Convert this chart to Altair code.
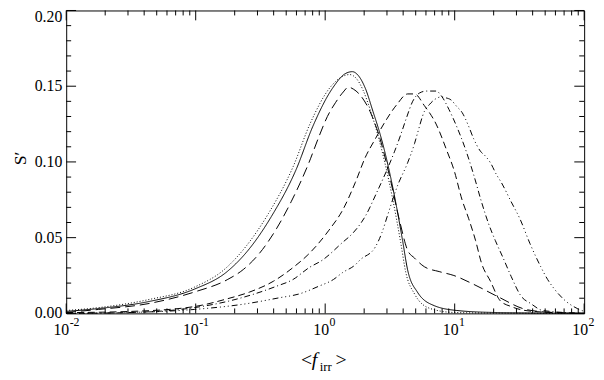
import altair as alt
import pandas as pd

# ---------------- data ----------------
series_names = ["solid", "dotted", "long dash", "short dash", "dash-dot", "dash-dot-dot-dot"]
dash_patterns = [[1, 0], [1, 2], [10, 5], [7, 4], [6, 3, 1, 3], [6, 3, 1, 3, 1, 3, 1, 3]]

solid_x = [0.01, 0.0178, 0.0428, 0.0977, 0.175, 0.261, 0.385, 0.596, 0.803, 1.14, 1.43, 1.62, 1.80,
           2.04, 2.34, 2.65, 2.99, 3.44, 3.96, 4.33, 5.15, 6.95, 10.4, 19.9, 47.9, 100]
solid_y = [0.0013, 0.0032, 0.0077, 0.0160, 0.0276, 0.0429, 0.0641, 0.0949, 0.1235, 0.1487, 0.1583,
           0.1596, 0.1571, 0.1487, 0.1333, 0.1186, 0.1013, 0.0769, 0.0481, 0.0288, 0.0141, 0.0051,
           0.0019, 0.0006, 0.0002, 0.0001]

dotted_x = [0.01, 0.0178, 0.0428, 0.0977, 0.169, 0.248, 0.365, 0.565, 0.762, 1.08, 1.36, 1.54, 1.74,
            1.96, 2.26, 2.56, 2.89, 3.33, 3.83, 4.18, 4.90, 6.47, 9.86, 19.9, 100]
dotted_y = [0.0019, 0.0038, 0.0090, 0.0173, 0.0295, 0.0449, 0.0660, 0.0968, 0.1250, 0.1487, 0.1564,
            0.1577, 0.1551, 0.1474, 0.1327, 0.1173, 0.0994, 0.0750, 0.0468, 0.0276, 0.0128, 0.0032,
            0.0006, 0.0002, 0.0]

longdash_x = [0.01, 0.0178, 0.0428, 0.0977, 0.175, 0.235, 0.311, 0.420, 0.546, 0.748, 0.891, 1.04,
              1.20, 1.38, 1.51, 1.65, 1.86, 2.22, 2.65, 3.16, 3.76, 4.33, 4.90, 5.83, 7.59, 9.86,
              14.0, 21.7, 35.5, 57.0, 100]
longdash_y = [0.0006, 0.0026, 0.0064, 0.0141, 0.0222, 0.0292, 0.0397, 0.0558, 0.0737, 0.0994,
              0.1163, 0.1300, 0.1391, 0.1462, 0.1494, 0.1481, 0.1442, 0.1333, 0.1154, 0.0897,
              0.0609, 0.0417, 0.0365, 0.0308, 0.0276, 0.0250, 0.0192, 0.0109, 0.0026, 0.0006, 0.0]

shortdash_x = [0.01, 0.0318, 0.0977, 0.175, 0.261, 0.398, 0.575, 0.736, 0.847, 1.06, 1.38, 1.71,
               2.04, 2.43, 2.89, 3.57, 4.33, 4.90, 5.83, 7.19, 8.73, 9.86, 11.4, 12.8, 14.5, 16.1,
               18.9, 22.5, 27.3, 40.2, 100]
shortdash_y = [0.0005, 0.0013, 0.0045, 0.0096, 0.0141, 0.0212, 0.0308, 0.0387, 0.0442, 0.0545,
               0.0690, 0.0865, 0.1030, 0.1150, 0.1263, 0.1378, 0.1449, 0.1449, 0.1372, 0.1250,
               0.1071, 0.0949, 0.0750, 0.0628, 0.0481, 0.0333, 0.0212, 0.0083, 0.0045, 0.0013, 0.0]

dashdot_x = [0.01, 0.0318, 0.0977, 0.184, 0.420, 0.565, 0.748, 0.957, 1.36, 1.62, 1.77, 2.04, 2.51,
             3.05, 3.44, 3.83, 4.26, 4.72, 5.35, 6.04, 7.19, 8.00, 9.04, 10.4, 12.2, 14.0, 16.1,
             18.2, 20.6, 23.7, 27.3, 32.5, 38.8, 47.9, 100]
dashdot_y = [0.0, 0.0006, 0.0038, 0.0083, 0.0179, 0.0224, 0.0301, 0.0353, 0.0468, 0.0526, 0.0564,
             0.0641, 0.0801, 0.0962, 0.1071, 0.1179, 0.1295, 0.1397, 0.1455, 0.1468, 0.1468,
             0.1429, 0.1346, 0.1231, 0.1077, 0.0917, 0.0737, 0.0596, 0.0481, 0.0365, 0.0244,
             0.0115, 0.0064, 0.0019, 0.0]

dddot_x = [0.01, 0.0318, 0.0977, 0.248, 0.443, 0.628, 0.891, 1.16, 1.36, 1.71, 1.86, 2.43, 2.74,
           3.05, 3.63, 4.33, 4.90, 5.15, 5.83, 6.37, 6.95, 7.85, 8.57, 9.35, 10.4, 11.4, 12.8, 14.0,
           15.8, 17.3, 18.9, 21.0, 22.9, 27.3, 32.0, 38.1, 46.2, 52.2, 59.0, 71.6, 88.5, 100]
dddot_y = [0.0, 0.0006, 0.0026, 0.0064, 0.0103, 0.0128, 0.0179, 0.0224, 0.0269, 0.0321, 0.0353,
           0.0436, 0.0532, 0.0654, 0.0846, 0.0994, 0.1122, 0.1186, 0.1333, 0.1378, 0.1410, 0.1429,
           0.1423, 0.1410, 0.1365, 0.1327, 0.1237, 0.1154, 0.1071, 0.1038, 0.0994, 0.0917, 0.0865,
           0.0737, 0.0622, 0.0462, 0.0308, 0.0224, 0.0160, 0.0083, 0.0032, 0.0013]

# axis ticks and labels
x_major = [0.01, 0.1, 1, 10, 100]
x_minor = [0.02, 0.03, 0.04, 0.05, 0.06, 0.07, 0.08, 0.09,
           0.2, 0.3, 0.4, 0.5, 0.6, 0.7, 0.8, 0.9,
           2, 3, 4, 5, 6, 7, 8, 9,
           20, 30, 40, 50, 60, 70, 80, 90]
x_lab_neg = [0.01, 0.1]
x_exp_neg = ["-2", "-1"]
x_lab_pos = [1, 10, 100]
x_exp_pos = ["0", "1", "2"]
y_major = [0.0, 0.05, 0.10, 0.15, 0.20]
y_minor = [0.01, 0.02, 0.03, 0.04, 0.06, 0.07, 0.08, 0.09, 0.11, 0.12, 0.13, 0.14,
           0.16, 0.17, 0.18, 0.19]
y_lab_vals = [0.0, 0.05, 0.10, 0.15]
y_lab_text = ["0.00", "0.05", "0.10", "0.15"]
y_top_val = [0.20]
y_top_text = ["0.20"]

# ---------------- chart ----------------
W, H = 525, 307
FONT = "Liberation Serif, Times New Roman, Times, DejaVu Serif, serif"

xscale = alt.Scale(type="log", domain=[0.01, 100], nice=False)
yscale = alt.Scale(domain=[0, 0.2], nice=False, zero=False)

frames = []
for name, xs, ys in zip(series_names,
                        [solid_x, dotted_x, longdash_x, shortdash_x, dashdot_x, dddot_x],
                        [solid_y, dotted_y, longdash_y, shortdash_y, dashdot_y, dddot_y]):
    frames.append(pd.DataFrame({"x": xs, "y": ys, "series": name, "i": range(len(xs))}))
df = pd.concat(frames, ignore_index=True)

lines = alt.Chart(df).mark_line(color="black", strokeWidth=1, interpolate="monotone").encode(
    x=alt.X("x:Q", scale=xscale, axis=None),
    y=alt.Y("y:Q", scale=yscale, axis=None),
    strokeDash=alt.StrokeDash("series:N", scale=alt.Scale(domain=series_names, range=dash_patterns),
                              legend=None),
    order="i:Q",
)


def xticks(vals, length):
    base = alt.Chart(pd.DataFrame({"v": vals}))
    bottom = base.mark_rule(color="black", strokeWidth=1).encode(
        x=alt.X("v:Q", scale=xscale, axis=None), y=alt.value(H), y2=alt.value(H - length))
    top = base.mark_rule(color="black", strokeWidth=1).encode(
        x=alt.X("v:Q", scale=xscale, axis=None), y=alt.value(0), y2=alt.value(length))
    return [bottom, top]


def yticks(vals, length):
    base = alt.Chart(pd.DataFrame({"v": vals}))
    left = base.mark_rule(color="black", strokeWidth=1).encode(
        y=alt.Y("v:Q", scale=yscale, axis=None), x=alt.value(0), x2=alt.value(length))
    right = base.mark_rule(color="black", strokeWidth=1).encode(
        y=alt.Y("v:Q", scale=yscale, axis=None), x=alt.value(W - length), x2=alt.value(W))
    return [left, right]


tick_layers = xticks(x_major, 10) + xticks(x_minor, 5) + yticks(y_major, 10) + yticks(y_minor, 5)

# x tick labels "10" + superscript exponent
neg_df = pd.DataFrame({"v": x_lab_neg, "e": x_exp_neg})
pos_df = pd.DataFrame({"v": x_lab_pos, "e": x_exp_pos})
xlab_layers = []
for d, off in [(neg_df, 3), (pos_df, 4)]:
    xlab_layers.append(alt.Chart(d).mark_text(text="10", align="right", baseline="alphabetic",
                                               dx=off, fontSize=16, font=FONT, color="black").encode(
        x=alt.X("v:Q", scale=xscale, axis=None), y=alt.value(H + 22)))
    xlab_layers.append(alt.Chart(d).mark_text(align="left", baseline="alphabetic", dx=off + 0.5,
                                               fontSize=12, font=FONT, color="black").encode(
        x=alt.X("v:Q", scale=xscale, axis=None), y=alt.value(H + 13), text="e:N"))

ylab = alt.Chart(pd.DataFrame({"v": y_lab_vals, "t": y_lab_text})).mark_text(
    align="right", baseline="middle", dx=-4, fontSize=16, font=FONT, color="black").encode(
    y=alt.Y("v:Q", scale=yscale, axis=None), x=alt.value(0), text="t:N")
ylab_top = alt.Chart(pd.DataFrame({"v": y_top_val, "t": y_top_text})).mark_text(
    align="right", baseline="middle", dx=-4, dy=7, fontSize=16, font=FONT, color="black").encode(
    y=alt.Y("v:Q", scale=yscale, axis=None), x=alt.value(0), text="t:N")

# axis titles
ytitle = alt.Chart(pd.DataFrame({"t": ["S′"]})).mark_text(
    angle=270, align="center", baseline="middle", fontSize=18, font=FONT, color="black").encode(
    x=alt.value(-46), y=alt.value(150), text="t:N")

xt_main1 = alt.Chart(pd.DataFrame({"t": ["<"]})).mark_text(
    align="left", baseline="alphabetic", fontSize=20, font=FONT, color="black").encode(
    x=alt.value(238), y=alt.value(H + 53), text="t:N")
xt_f = alt.Chart(pd.DataFrame({"t": ["f"]})).mark_text(
    align="left", baseline="alphabetic", fontSize=20, font=FONT, fontStyle="italic",
    color="black").encode(x=alt.value(249), y=alt.value(H + 53), text="t:N")
xt_sub = alt.Chart(pd.DataFrame({"t": ["irr"]})).mark_text(
    align="left", baseline="alphabetic", fontSize=13, font=FONT, color="black").encode(
    x=alt.value(257), y=alt.value(H + 58), text="t:N")
xt_main2 = alt.Chart(pd.DataFrame({"t": [">"]})).mark_text(
    align="left", baseline="alphabetic", fontSize=20, font=FONT, color="black").encode(
    x=alt.value(273), y=alt.value(H + 53), text="t:N")

chart = alt.layer(
    lines, *tick_layers, *xlab_layers, ylab, ylab_top, ytitle, xt_main1, xt_f, xt_sub, xt_main2
).properties(
    width=W, height=H,
    autosize=alt.AutoSizeParams(type="none"),
    padding={"left": 59, "top": 0, "right": 12, "bottom": 64},
).configure_view(stroke="black", strokeWidth=1)

chart.save("out.html", embed_options={"renderer": "svg", "actions": False})
